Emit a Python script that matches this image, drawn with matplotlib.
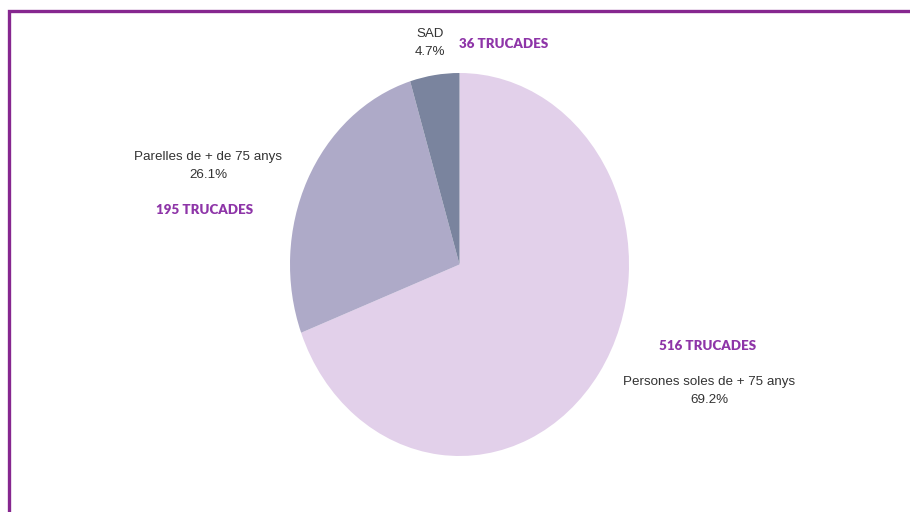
import matplotlib.pyplot as plt
from matplotlib.lines import Line2D

# data
labels = ["Persones soles de + 75 anys", "Parelles de + de 75 anys", "SAD"]
pcts = [69.2, 26.1, 4.7]
calls = [516, 195, 36]
colors = ["#e2d0ea", "#aeaac8", "#7a849e"]

W, H = 910, 512
fig = plt.figure(figsize=(W / 100, H / 100), dpi=100)

def px(x, y):
    # pixel coords (top-left origin) -> figure fraction
    return x / W, 1 - y / H

# pie axes stretched like the original (not a perfect circle)
l, t, r, b = 290, 73, 629, 456
ax = fig.add_axes([l / W, 1 - b / H, (r - l) / W, (b - t) / H])
ax.pie(pcts, colors=colors, startangle=90, counterclock=False,
       wedgeprops=dict(linewidth=0))
ax.set_aspect("auto")
ax.set_xlim(-1, 1)
ax.set_ylim(-1, 1)
ax.axis("off")

# purple frame (left + top only visible)
fx0, fy0 = px(8.5, 512)
fx1, fy1 = px(8.5, 11)
fx2, fy2 = px(910, 11)
fig.add_artist(Line2D([fx0, fx1, fx2], [fy0, fy1, fy2], color="#86278f",
                      linewidth=2.4, transform=fig.transFigure,
                      solid_joinstyle="miter"))

txt = dict(family="Liberation Sans", fontsize=9.6, color="#333333",
           ha="center", va="center", linespacing=1.72)
bold = dict(family="Lato", fontsize=9.6, color="#8e35a8", fontweight="heavy",
            ha="center", va="center")

# label positions (pixel centres)
lab_pos = [(709, 391), (208, 166), (430, 43)]
cnt_pos = [(708, 346), (205, 210), (504, 44)]

for i in range(len(labels)):
    fig.text(*px(*lab_pos[i]), "%s\n%.1f%%" % (labels[i], pcts[i]), **txt)
    fig.text(*px(*cnt_pos[i]), "%d TRUCADES" % calls[i], **bold)

fig.savefig("out.png", dpi=100)
